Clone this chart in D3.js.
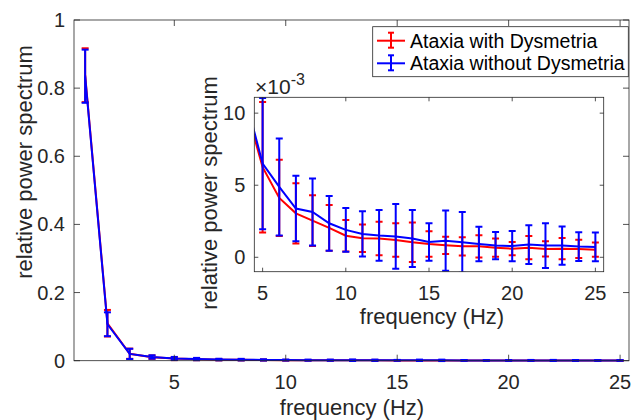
<!DOCTYPE html>
<html>
<head>
<meta charset="utf-8">
<script src="https://cdn.jsdelivr.net/npm/d3@7"></script>
<style>
  body { margin: 0; background: #fff; }
  svg { font-family: "Liberation Sans", Arial, sans-serif; }
</style>
</head>
<body>
<svg id="chart" width="633" height="420"></svg>
<script>
const freqs = d3.range(1, 26);

// mean relative power, with dysmetria (red) and without (blue)
const redMean = [0.838, 0.110, 0.0205, 0.0104, 0.00625, 0.00412, 0.00305, 0.00254, 0.00204, 0.0015,
  0.00132, 0.0013, 0.0012, 0.00104, 0.00092, 0.00083, 0.00076, 0.00076, 0.00067, 0.0006,
  0.00067, 0.00058, 0.0006, 0.00058, 0.00053];
const redErr = [0.079, 0.039, 0.015, 0.005, 0.00453, 0.00264, 0.00209, 0.00176, 0.00158, 0.00109,
  0.00095, 0.00116, 0.00116, 0.00137, 0.00088, 0.0006, 0.00063, 0.00077, 0.00063, 0.00046,
  0.00081, 0.00053, 0.00074, 0.00063, 0.00049];
const blueMean = [0.835, 0.107, 0.020, 0.0109, 0.0065, 0.00488, 0.00338, 0.00314, 0.00236, 0.0019,
  0.00162, 0.00152, 0.00145, 0.0013, 0.00106, 0.00115, 0.00104, 0.00092, 0.00081, 0.00078,
  0.00088, 0.00081, 0.00081, 0.00074, 0.00072];
const blueErr = [0.078, 0.035, 0.015, 0.005, 0.00455, 0.00336, 0.00227, 0.00232, 0.0019, 0.00152,
  0.00157, 0.00176, 0.00225, 0.00198, 0.0013, 0.00209, 0.00211, 0.0012, 0.00095, 0.00105,
  0.00135, 0.00155, 0.00132, 0.001, 0.001];

const seriesNames = ["Ataxia with Dysmetria", "Ataxia without Dysmetria"];
const seriesColors = ["#ff0000", "#0000ff"];

const mainXTicks = [5, 10, 15, 20, 25];
const mainYTicks = [0, 0.2, 0.4, 0.6, 0.8, 1];
const insetXTicks = [5, 10, 15, 20, 25];
const insetYTicks = [0, 0.005, 0.01];

const series = [
  { name: seriesNames[0], color: seriesColors[0], mean: redMean, err: redErr },
  { name: seriesNames[1], color: seriesColors[1], mean: blueMean, err: blueErr }
];

const svg = d3.select("#chart");
const axisColor = "#262626";

function drawAxes(g, x, y, xTicks, yTicks, tickLen, yFmt, fontSize) {
  const [x0, x1] = x.range();
  const [y0, y1] = y.range(); // y0 bottom, y1 top

  g.append("rect")
    .attr("x", x0).attr("y", y1)
    .attr("width", x1 - x0).attr("height", y0 - y1)
    .attr("fill", "#fff");

  return function frame() {
    const f = g.append("g");
    f.append("rect")
      .attr("x", x0).attr("y", y1)
      .attr("width", x1 - x0).attr("height", y0 - y1)
      .attr("fill", "none").attr("stroke", axisColor).attr("stroke-width", 0.8);

    xTicks.forEach(t => {
      f.append("line").attr("x1", x(t)).attr("x2", x(t)).attr("y1", y0).attr("y2", y0 - tickLen)
        .attr("stroke", axisColor).attr("stroke-width", 0.8);
      f.append("line").attr("x1", x(t)).attr("x2", x(t)).attr("y1", y1).attr("y2", y1 + tickLen)
        .attr("stroke", axisColor).attr("stroke-width", 0.8);
      f.append("text").attr("x", x(t)).attr("y", y0 + 28)
        .attr("text-anchor", "middle").attr("font-size", fontSize).attr("fill", axisColor)
        .text(t);
    });
    yTicks.forEach(t => {
      f.append("line").attr("x1", x0).attr("x2", x0 + tickLen).attr("y1", y(t)).attr("y2", y(t))
        .attr("stroke", axisColor).attr("stroke-width", 0.8);
      f.append("line").attr("x1", x1).attr("x2", x1 - tickLen).attr("y1", y(t)).attr("y2", y(t))
        .attr("stroke", axisColor).attr("stroke-width", 0.8);
      f.append("text").attr("x", x0 - 9).attr("y", y(t)).attr("dy", "0.35em")
        .attr("text-anchor", "end").attr("font-size", fontSize).attr("fill", axisColor)
        .text(yFmt(t));
    });
  };
}

function drawSeries(g, x, y, s, capW, clipId) {
  const sg = g.append("g");
  if (clipId) sg.attr("clip-path", `url(#${clipId})`);
  const pts = freqs.map((f, i) => ({ f, m: s.mean[i], e: s.err[i] }));

  sg.append("path")
    .datum(pts)
    .attr("fill", "none")
    .attr("stroke", s.color)
    .attr("stroke-width", 2)
    .attr("d", d3.line().x(d => x(d.f)).y(d => y(d.m)));

  const bars = sg.selectAll(null).data(pts).enter().append("g");
  bars.append("line")
    .attr("x1", d => x(d.f)).attr("x2", d => x(d.f))
    .attr("y1", d => y(d.m - d.e)).attr("y2", d => y(d.m + d.e))
    .attr("stroke", s.color).attr("stroke-width", 2);
  [-1, 1].forEach(sign => {
    bars.append("line")
      .attr("x1", d => x(d.f) - capW).attr("x2", d => x(d.f) + capW)
      .attr("y1", d => y(d.m + sign * d.e)).attr("y2", d => y(d.m + sign * d.e))
      .attr("stroke", s.color).attr("stroke-width", 2);
  });
}

// main axes
const x = d3.scaleLinear().domain([0.5, 25.4]).range([74, 629]);
const y = d3.scaleLinear().domain([0, 1]).range([360.7, 20]);
const mainG = svg.append("g");
const mainFrame = drawAxes(mainG, x, y, mainXTicks, mainYTicks, 6, d3.format("~g"), 20);
series.forEach(s => drawSeries(mainG, x, y, s, 3.5));
mainFrame();

mainG.append("text")
  .attr("transform", "translate(32,162) rotate(-90)")
  .attr("text-anchor", "middle").attr("font-size", 22).attr("fill", axisColor)
  .text("relative power spectrum");
mainG.append("text")
  .attr("x", 352).attr("y", 415)
  .attr("text-anchor", "middle").attr("font-size", 22).attr("fill", axisColor)
  .text("frequency (Hz)");

// inset axes
const xi = d3.scaleLinear().domain([4.5, 25.5]).range([254.3, 603.7]);
const yi = d3.scaleLinear().domain([-0.001, 0.0111]).range([271.7, 97.3]);
svg.append("defs").append("clipPath").attr("id", "insetClip")
  .append("rect").attr("x", 254.3).attr("y", 97.3).attr("width", 349.4).attr("height", 174.4);

const insetG = svg.append("g");
const insetFrame = drawAxes(insetG, xi, yi, insetXTicks, insetYTicks, 4, t => Math.round(t * 1000), 20);
series.forEach(s => drawSeries(insetG, xi, yi, s, 3.5, "insetClip"));
insetFrame();

insetG.append("text")
  .attr("transform", "translate(217,193) rotate(-90)")
  .attr("text-anchor", "middle").attr("font-size", 22).attr("fill", axisColor)
  .text("relative power spectrum");
insetG.append("text")
  .attr("x", 432).attr("y", 324)
  .attr("text-anchor", "middle").attr("font-size", 22).attr("fill", axisColor)
  .text("frequency (Hz)");
const expo = insetG.append("text")
  .attr("x", 255).attr("y", 94).attr("font-size", 21).attr("fill", axisColor);
expo.append("tspan").text("\u00d710");
expo.append("tspan").attr("font-size", 16).attr("dy", -9).text("-3");

// legend
const legend = svg.append("g");
legend.append("rect")
  .attr("x", 372.7).attr("y", 26.7).attr("width", 255.6).attr("height", 50)
  .attr("fill", "#fff").attr("stroke", axisColor).attr("stroke-width", 0.8);
series.forEach((s, i) => {
  const cy = 40.7 + i * 22.6;
  const row = legend.append("g");
  row.append("line").attr("x1", 377).attr("x2", 405).attr("y1", cy).attr("y2", cy)
    .attr("stroke", s.color).attr("stroke-width", 2);
  row.append("line").attr("x1", 391).attr("x2", 391).attr("y1", cy - 8).attr("y2", cy + 7)
    .attr("stroke", s.color).attr("stroke-width", 2);
  [cy - 8, cy + 7].forEach(yy => row.append("line")
    .attr("x1", 388).attr("x2", 394).attr("y1", yy).attr("y2", yy)
    .attr("stroke", s.color).attr("stroke-width", 2));
  row.append("text").attr("x", 410).attr("y", cy).attr("dy", "0.35em")
    .attr("font-size", 19.5).attr("fill", "#000").text(s.name);
});
</script>
</body>
</html>
